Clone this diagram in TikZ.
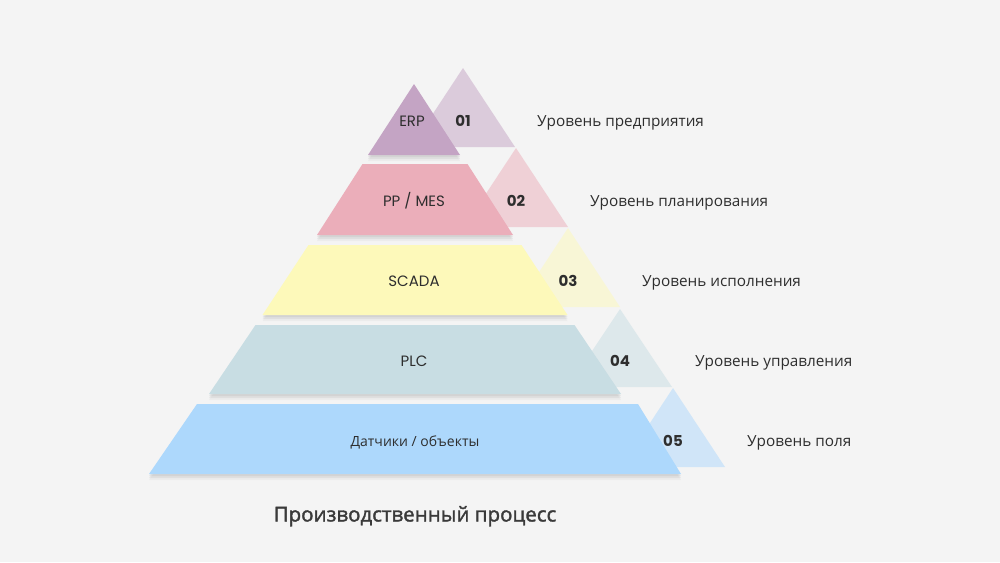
\documentclass[tikz,border=0pt]{standalone}
\usepackage{fontspec}
\setmainfont{Open Sans}
\newfontfamily\popp{Poppins}
\newfontfamily\osmed[FakeBold=1.6]{Open Sans}
\definecolor{bg}{HTML}{F4F4F4}
\definecolor{cA}{HTML}{C4A4C4}
\definecolor{cB}{HTML}{EBAEBA}
\definecolor{cC}{HTML}{FDF9BA}
\definecolor{cD}{HTML}{C8DDE3}
\definecolor{cE}{HTML}{ADD8FC}
\definecolor{labc}{HTML}{2E2E2E}
\definecolor{titc}{HTML}{3A3A3A}
\begin{document}
\begin{tikzpicture}[x=1pt,y=-1pt,
  trap/.style={fill=#1,
    preaction={fill=black, fill opacity=0.03, transform canvas={yshift=-6pt}},
    preaction={fill=black, fill opacity=0.05, transform canvas={yshift=-4pt}},
    preaction={fill=black, fill opacity=0.05, transform canvas={yshift=-2pt}}},
  tri/.style={fill=#1, fill opacity=0.5},
  num/.style={font=\popp\bfseries\fontsize{15}{18}\selectfont, text=labc, anchor=base},
  inlab/.style={font=\fontsize{14}{17}\selectfont, text=labc, anchor=base},
  inlat/.style={font=\popp\fontsize{15}{18}\selectfont, text=labc, anchor=base},
  rlab/.style={font=\fontsize{15.3}{18}\selectfont, text=labc, anchor=base west, inner xsep=0pt},
  titl/.style={font=\osmed\fontsize{20.5}{25}\selectfont, text=titc, anchor=base}
]
\fill[bg] (0,0) rectangle (1000,562);
\useasboundingbox (0,0) rectangle (1000,562);

% pyramid levels
\path[trap=cA] (414,84) -- (460,155) -- (368,155) -- cycle;
\path[trap=cB] (362.5,164) -- (467.5,164) -- (513,235) -- (317,235) -- cycle;
\path[trap=cC] (308.5,245) -- (521.5,245) -- (567.5,315) -- (262.5,315) -- cycle;
\path[trap=cD] (255.5,325) -- (574.5,325) -- (621,394) -- (209,394) -- cycle;
\path[trap=cE] (197,404) -- (638,404) -- (681,474) -- (149,474) -- cycle;

% side triangles
\path[tri=cA] (463,68) -- (515,147) -- (411,147) -- cycle;
\path[tri=cB] (516,148) -- (568,227) -- (464,227) -- cycle;
\path[tri=cC] (568,228) -- (620,307) -- (516,307) -- cycle;
\path[tri=cD] (620,309) -- (672,387) -- (568,387) -- cycle;
\path[tri=cE] (673,388) -- (725,467) -- (621,467) -- cycle;

% labels inside
\node[inlat] (erp) at (412,126) {ERP};
\node[inlat] (mes) at (414,206) {PP / MES};
\node[inlat] (scada) at (414,286) {SCADA};
\node[inlat] (plc) at (414,366) {PLC};
\node[inlab] (sens) at (415,446) {Датчики / объекты};

% numbers
\node[num] (n1) at (463,126) {01};
\node[num] (n2) at (516,206) {02};
\node[num] (n3) at (568,286) {03};
\node[num] (n4) at (620,366) {04};
\node[num] (n5) at (673,446) {05};

% right labels
\node[rlab] (r1) at (537,126.5) {Уровень предприятия};
\node[rlab] (r2) at (590,206.5) {Уровень планирования};
\node[rlab] (r3) at (642,286.5) {Уровень исполнения};
\node[rlab] (r4) at (695,366.5) {Уровень управления};
\node[rlab] (r5) at (747,446.5) {Уровень поля};

\node[titl] (title) at (415,521.5) {Производственный процесс};
\end{tikzpicture}
\end{document}
